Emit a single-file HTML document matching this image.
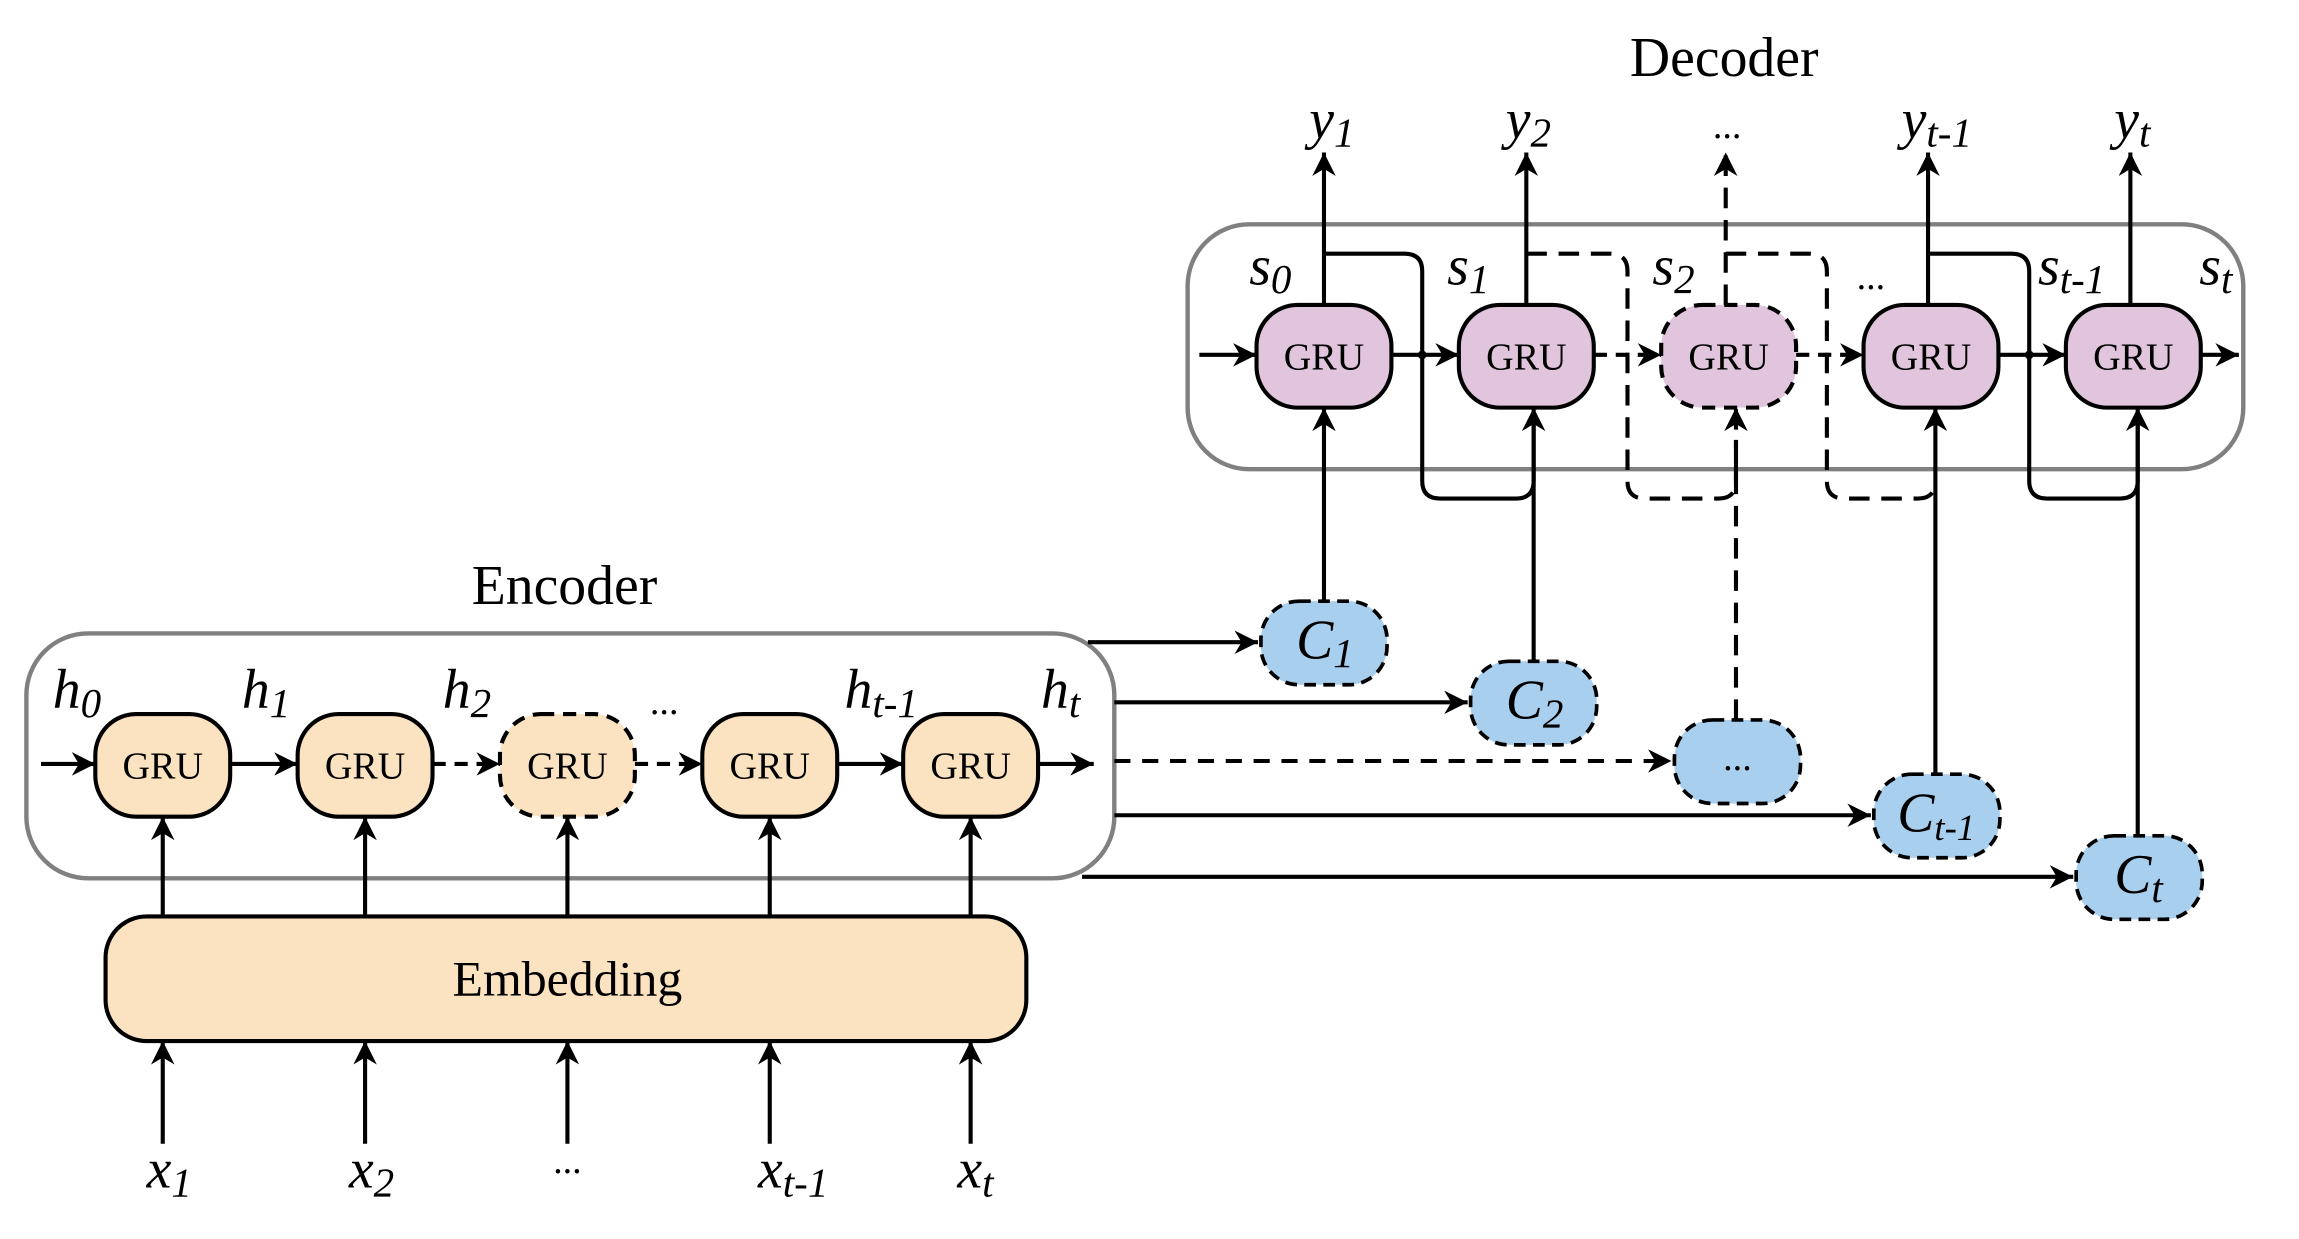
<!DOCTYPE html>
<html><head><meta charset="utf-8"><style>
html,body{margin:0;padding:0;background:#fff;}
svg{display:block;}
text{font-family:"Liberation Serif",serif;fill:#000;}
.it{font-style:italic;}
</style></head><body>
<svg width="2299" height="1239" viewBox="0 0 1568 845" preserveAspectRatio="none" xmlns="http://www.w3.org/2000/svg">
<defs>
<marker id="b" viewBox="0 0 10 10" refX="10" refY="5" markerWidth="16" markerHeight="16" orient="auto" markerUnits="userSpaceOnUse"><path d="M0,0 L10,5 L0,10 L3,5 z" fill="#000"/></marker>
</defs>
<g stroke="#000" fill="none" stroke-width="2.8">
<rect x="18" y="432" width="742" height="167" rx="42" stroke="#808080" stroke-width="3"/>
<rect x="810" y="153" width="720" height="167" rx="42" stroke="#808080" stroke-width="3"/>

<line x1="28" y1="521" x2="65" y2="521" marker-end="url(#b)"/>
<line x1="157" y1="521" x2="203" y2="521" marker-end="url(#b)"/>
<line x1="295" y1="521" x2="341" y2="521" stroke-dasharray="9,6" marker-end="url(#b)"/>
<line x1="433" y1="521" x2="479" y2="521" stroke-dasharray="9,6" marker-end="url(#b)"/>
<line x1="571" y1="521" x2="616" y2="521" marker-end="url(#b)"/>
<line x1="708" y1="521" x2="746" y2="521" marker-end="url(#b)"/>
<line x1="111" y1="625" x2="111" y2="557" marker-end="url(#b)"/>
<line x1="249" y1="625" x2="249" y2="557" marker-end="url(#b)"/>
<line x1="387" y1="625" x2="387" y2="557" marker-end="url(#b)"/>
<line x1="525" y1="625" x2="525" y2="557" marker-end="url(#b)"/>
<line x1="662" y1="625" x2="662" y2="557" marker-end="url(#b)"/>
<line x1="111" y1="780" x2="111" y2="710" marker-end="url(#b)"/>
<line x1="249" y1="780" x2="249" y2="710" marker-end="url(#b)"/>
<line x1="387" y1="780" x2="387" y2="710" marker-end="url(#b)"/>
<line x1="525" y1="780" x2="525" y2="710" marker-end="url(#b)"/>
<line x1="662" y1="780" x2="662" y2="710" marker-end="url(#b)"/>

<line x1="742" y1="438" x2="858" y2="438" marker-end="url(#b)"/>
<line x1="760" y1="479" x2="1001" y2="479" marker-end="url(#b)"/>
<line x1="760" y1="519" x2="1140" y2="519" stroke-dasharray="11,8" marker-end="url(#b)"/>
<line x1="760" y1="556" x2="1276" y2="556" marker-end="url(#b)"/>
<line x1="738" y1="598" x2="1414" y2="598" marker-end="url(#b)"/>

<line x1="903" y1="410" x2="903" y2="278" marker-end="url(#b)"/>
<line x1="1046" y1="451" x2="1046" y2="278" marker-end="url(#b)"/>
<line x1="1184" y1="491" x2="1184" y2="278" stroke-dasharray="14,8" marker-end="url(#b)"/>
<line x1="1320" y1="528" x2="1320" y2="278" marker-end="url(#b)"/>
<line x1="1458" y1="570" x2="1458" y2="278" marker-end="url(#b)"/>

<line x1="903" y1="208" x2="903" y2="104" marker-end="url(#b)"/>
<line x1="1041" y1="208" x2="1041" y2="104" marker-end="url(#b)"/>
<line x1="1177" y1="208" x2="1177" y2="104" stroke-dasharray="14,8" marker-end="url(#b)"/>
<line x1="1315" y1="208" x2="1315" y2="104" marker-end="url(#b)"/>
<line x1="1453" y1="208" x2="1453" y2="104" marker-end="url(#b)"/>

<path d="M903,173 H958 Q970,173 970,185 V328 Q970,340 982,340 H1034 Q1046,340 1046,328 V290"/>
<path d="M1041,173 H1098 Q1110,173 1110,185 V328 Q1110,340 1122,340 H1172 Q1184,340 1184,328 V300" stroke-dasharray="14,8"/>
<path d="M1177,173 H1234 Q1246,173 1246,185 V328 Q1246,340 1258,340 H1308 Q1320,340 1320,328" stroke-dasharray="14,8"/>
<path d="M1315,173 H1372 Q1384,173 1384,185 V328 Q1384,340 1396,340 H1446 Q1458,340 1458,328 V290"/>

<line x1="818" y1="242" x2="857" y2="242" marker-end="url(#b)"/>
<line x1="949" y1="242" x2="995" y2="242" marker-end="url(#b)"/>
<line x1="1087" y1="242" x2="1133" y2="242" stroke-dasharray="9,6" marker-end="url(#b)"/>
<line x1="1225" y1="242" x2="1271" y2="242" stroke-dasharray="9,6" marker-end="url(#b)"/>
<line x1="1363" y1="242" x2="1409" y2="242" marker-end="url(#b)"/>
<line x1="1501" y1="242" x2="1527" y2="242" marker-end="url(#b)"/>
</g>
<circle cx="970" cy="242" r="3" fill="#000"/>
<circle cx="1384" cy="242" r="3" fill="#000"/>

<g stroke="#000" stroke-width="2.8" fill="#fbe3c1">
<rect x="65" y="487" width="92" height="70" rx="28"/>
<rect x="203" y="487" width="92" height="70" rx="28"/>
<rect x="341" y="487" width="92" height="70" rx="28" stroke-dasharray="9,6"/>
<rect x="479" y="487" width="92" height="70" rx="28"/>
<rect x="616" y="487" width="92" height="70" rx="28"/>
<rect x="72" y="625" width="628" height="85" rx="28"/>
</g>
<g stroke="#000" stroke-width="2.8" fill="#e0c5dc">
<rect x="857" y="208" width="92" height="70" rx="28"/>
<rect x="995" y="208" width="92" height="70" rx="28"/>
<rect x="1133" y="208" width="92" height="70" rx="28" stroke-dasharray="9,6"/>
<rect x="1271" y="208" width="92" height="70" rx="28"/>
<rect x="1409" y="208" width="92" height="70" rx="28"/>
</g>
<g stroke="#000" stroke-width="2.5" fill="#a9cfee" stroke-dasharray="8,5">
<rect x="860" y="410" width="86" height="57" rx="26"/>
<rect x="1003" y="451" width="86" height="57" rx="26"/>
<rect x="1142" y="491" width="86" height="57" rx="26"/>
<rect x="1278" y="528" width="86" height="57" rx="26"/>
<rect x="1416" y="570" width="86" height="57" rx="26"/>
</g>

<g font-size="26" text-anchor="middle">
<text x="111" y="531">GRU</text><text x="249" y="531">GRU</text><text x="387" y="531">GRU</text><text x="525" y="531">GRU</text><text x="662" y="531">GRU</text>
<text x="903" y="252">GRU</text><text x="1041" y="252">GRU</text><text x="1179" y="252">GRU</text><text x="1317" y="252">GRU</text><text x="1455" y="252">GRU</text>
</g>
<text x="387" y="679" font-size="34" text-anchor="middle">Embedding</text>
<text x="385" y="412" font-size="38" text-anchor="middle">Encoder</text>
<text x="1176" y="52" font-size="38" text-anchor="middle">Decoder</text>

<g font-size="38" class="it">
<text x="36" y="483">h<tspan font-size="28" dy="6">0</tspan></text>
<text x="165" y="483">h<tspan font-size="28" dy="6">1</tspan></text>
<text x="302" y="483">h<tspan font-size="28" dy="6">2</tspan></text>
<text x="576" y="483">h<tspan font-size="28" dy="6">t-1</tspan></text>
<text x="710" y="483">h<tspan font-size="28" dy="6">t</tspan></text>
<text x="100" y="810">x<tspan font-size="28" dy="6">1</tspan></text>
<text x="238" y="810">x<tspan font-size="28" dy="6">2</tspan></text>
<text x="517" y="810">x<tspan font-size="28" dy="6">t-1</tspan></text>
<text x="653" y="810">x<tspan font-size="28" dy="6">t</tspan></text>
<text x="893" y="94">y<tspan font-size="28" dy="6">1</tspan></text>
<text x="1027" y="94">y<tspan font-size="28" dy="6">2</tspan></text>
<text x="1297" y="94">y<tspan font-size="28" dy="6">t-1</tspan></text>
<text x="1442" y="94">y<tspan font-size="28" dy="6">t</tspan></text>
<text x="852" y="194">s<tspan font-size="28" dy="6">0</tspan></text>
<text x="987" y="194">s<tspan font-size="28" dy="6">1</tspan></text>
<text x="1127" y="194">s<tspan font-size="28" dy="6">2</tspan></text>
<text x="1390" y="194">s<tspan font-size="28" dy="6">t-1</tspan></text>
<text x="1500" y="194">s<tspan font-size="28" dy="6">t</tspan></text>
<text x="884" y="449">C<tspan font-size="28" dy="6">1</tspan></text>
<text x="1027" y="490">C<tspan font-size="28" dy="6">2</tspan></text>
<text x="1294" y="567">C<tspan font-size="25" dy="6">t-1</tspan></text>
<text x="1442" y="609">C<tspan font-size="28" dy="6">t</tspan></text>
</g>
<g font-size="26" text-anchor="middle">
<text x="453" y="487">...</text>
<text x="387" y="800">...</text>
<text x="1178" y="94">...</text>
<text x="1276" y="197">...</text>
<text x="1185" y="525">...</text>
</g>
</svg>
</body></html>
